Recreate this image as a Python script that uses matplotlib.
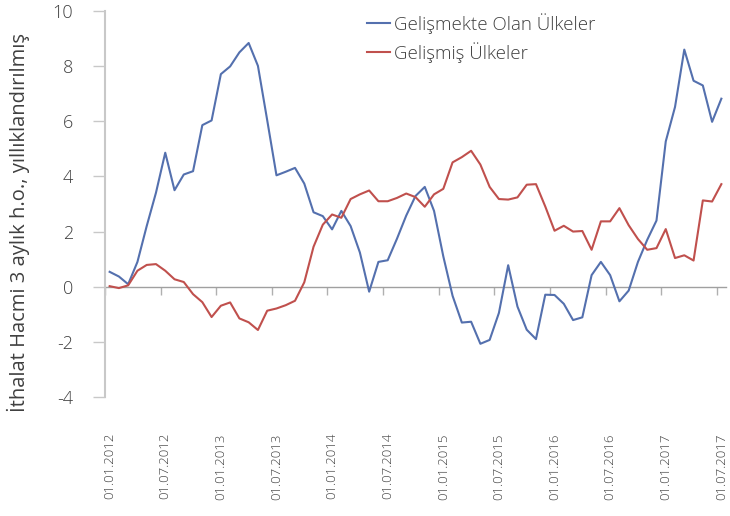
import matplotlib
matplotlib.use('Agg')
import matplotlib.pyplot as plt
import numpy as np

plt.rcParams['font.family'] = ['Open Sans', 'DejaVu Sans']
plt.rcParams['font.weight'] = 'light'
plt.rcParams['axes.unicode_minus'] = False

# monthly dates, 01.01.2012 - 01.07.2017
dates = ['01.%02d.%d' % (m, y) for y in range(2012, 2018) for m in range(1, 13)][:67]

# Gelişmekte Olan Ülkeler
emerging = [0.54, 0.37, 0.09, 0.9, 2.2, 3.41, 4.86, 3.5, 4.07, 4.19,
            5.86, 6.03, 7.71, 7.99, 8.5, 8.84, 8.01, 6.04, 4.04, 4.17,
            4.31, 3.74, 2.7, 2.56, 2.08, 2.75, 2.2, 1.24, -0.18, 0.9,
            0.96, 1.74, 2.58, 3.29, 3.62, 2.75, 1.1, -0.33, -1.3, -1.27,
            -2.07, -1.93, -0.95, 0.78, -0.72, -1.56, -1.9, -0.29, -0.3, -0.62,
            -1.21, -1.11, 0.42, 0.9, 0.42, -0.53, -0.14, 0.9, 1.7, 2.4,
            5.27, 6.52, 8.6, 7.47, 7.3, 5.98, 6.82]

# Gelişmiş Ülkeler
developed = [0.02, -0.05, 0.05, 0.58, 0.79, 0.82, 0.58, 0.27, 0.17, -0.27,
             -0.56, -1.1, -0.69, -0.57, -1.15, -1.29, -1.57, -0.87, -0.79, -0.67,
             -0.51, 0.16, 1.45, 2.25, 2.62, 2.5, 3.18, 3.35, 3.49, 3.1,
             3.1, 3.22, 3.38, 3.25, 2.9, 3.35, 3.55, 4.51, 4.7, 4.93,
             4.43, 3.62, 3.18, 3.16, 3.24, 3.7, 3.72, 2.91, 2.03, 2.21,
             2.0, 2.02, 1.34, 2.37, 2.37, 2.85, 2.23, 1.73, 1.34, 1.4,
             2.09, 1.04, 1.14, 0.95, 3.13, 3.09, 3.72]

blue = '#5470AE'
red = '#C0504D'
text_col = '#404040'

fig = plt.figure(figsize=(7.3, 5.16), dpi=100)
ax = fig.add_axes([105 / 730, 1 - 397 / 516, 621 / 730, 386 / 516])

x = np.arange(len(dates))
ax.plot(x, emerging, color=blue, lw=1.5, label='Gelişmekte Olan Ülkeler')
ax.plot(x, developed, color=red, lw=1.5, label='Gelişmiş Ülkeler')

ax.set_xlim(-0.5, len(dates) - 0.5)
ax.set_ylim(-4, 10)
ax.set_yticks(range(-4, 11, 2))

# spines
for s in ['top', 'right', 'bottom']:
    ax.spines[s].set_visible(False)
ax.spines['left'].set_color('#C8C8C8')
ax.spines['left'].set_linewidth(1.5)
ax.tick_params(axis='y', length=9, width=1, color='#C8C8C8',
               labelsize=13, labelcolor=text_col, pad=14)

# category labels every 6 months
ax.set_xticks(x[::6])
ax.set_xticklabels(dates[::6], rotation=90)
ax.tick_params(axis='x', length=0, labelsize=9.5, labelcolor=text_col, pad=26)

# horizontal axis line at zero with tick marks between categories
sec = ax.secondary_xaxis(4 / 14)
sec.set_xticks(x[::6] - 0.5)
sec.set_xticklabels([])
sec.spines['bottom'].set_color('#A0A0A0')
sec.spines['bottom'].set_linewidth(1)
sec.tick_params(axis='x', length=6, width=1, color='#B0B0B0', direction='out')

ax.set_ylabel('İthalat Hacmi 3 aylık h.o., yıllıklandırılmış',
              fontsize=14.5, color=text_col)
ax.yaxis.set_label_coords(-0.12, 0.453)

leg = ax.legend(loc='upper left', bbox_to_anchor=(0.422, 0.995), frameon=False,
                fontsize=13.5, handlelength=1.2, handletextpad=0.25,
                labelspacing=0.45, borderpad=0, borderaxespad=0)
for t in leg.get_texts():
    t.set_color(text_col)

fig.savefig('out.png', dpi=100)
